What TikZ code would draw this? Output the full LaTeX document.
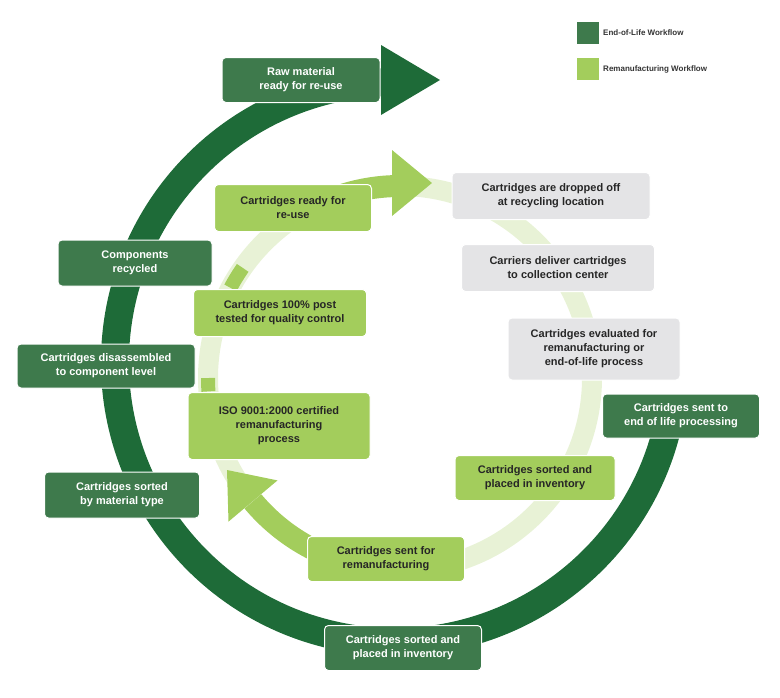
\documentclass[tikz,border=0pt]{standalone}
\usepackage{fontspec}
\setmainfont{Liberation Sans}
\definecolor{eolgreen}{HTML}{3E7A4C}
\definecolor{ringgreen}{HTML}{1E6B38}
\definecolor{remgreen}{HTML}{A3CD5C}
\definecolor{boxgrey}{HTML}{E4E4E6}
\tikzset{
  box/.style={rounded corners=4pt, align=center, font=\bfseries\fontsize{11}{14}\selectfont,
    inner sep=0pt, draw=white, line width=1pt},
  eol/.style={box, fill=eolgreen, text=white},
  rem/.style={box, fill=remgreen, text=black!85},
  grey/.style={box, fill=boxgrey, text=black!85},
  key/.style={font=\bfseries\fontsize{8}{10}\selectfont, anchor=west, text=black!80}
}
\begin{document}
\begin{tikzpicture}[x=1pt,y=-1pt]
\useasboundingbox (0,0) rectangle (780,697);
% outer ring
\draw[ringgreen, line width=28pt]
  (395,362) ++(10:280) arc[start angle=10, end angle=267.5, radius=280];
\fill[ringgreen] (381,45) -- (440,80) -- (381,115) -- cycle;
% inner ring
\draw[remgreen, opacity=.25, line width=20pt] (400,378) circle[radius=192];
\draw[remgreen, line width=22pt]
  (400,378) ++(-125:192) arc[start angle=-125, end angle=-92, radius=192];
\fill[remgreen] (392,150) -- (432,183) -- (392,216) -- cycle;
\draw[remgreen, line width=22pt]
  (400,378) ++(80:192) arc[start angle=80, end angle=140, radius=192];
\fill[remgreen] (277.5,480.4) -- (227,470) -- (228.5,521.6) -- cycle;
\draw[remgreen, line width=14pt] (400,378) ++(-152:192) arc[start angle=-152, end angle=-145, radius=192];
\draw[remgreen, line width=14pt] (400,378) ++(176:192) arc[start angle=176, end angle=180, radius=192];
% end-of-life boxes
\node[eol, minimum width=158pt, minimum height=45pt] (raw) at (301,80) {Raw material\\ready for re-use};
\node[eol, minimum width=154pt, minimum height=46pt] (comp) at (135,263) {Components\\recycled};
\node[eol, minimum width=178pt, minimum height=44pt] (disas) at (106,366) {Cartridges disassembled\\to component level};
\node[eol, minimum width=157pt, minimum height=44pt] (eolsent) at (681,416) {Cartridges sent to\\end of life processing};
\node[eol, minimum width=155pt, minimum height=46pt] (bytype) at (122,495) {Cartridges sorted\\by material type};
\node[eol, minimum width=157pt, minimum height=45pt] (sortbot) at (403,648) {Cartridges sorted and\\placed in inventory};
% remanufacturing boxes
\node[rem, minimum width=157pt, minimum height=47pt] (ready) at (293,208) {Cartridges ready for\\re-use};
\node[rem, minimum width=173pt, minimum height=47pt] (tested) at (280,313) {Cartridges 100\% post\\tested for quality control};
\node[rem, minimum width=182pt, minimum height=67pt] (iso) at (279,426) {ISO 9001:2000 certified\\remanufacturing\\process};
\node[rem, minimum width=160pt, minimum height=45pt] (sortrem) at (535,478) {Cartridges sorted and\\placed in inventory};
\node[rem, minimum width=157pt, minimum height=45pt] (remsent) at (386,559) {Cartridges sent for\\remanufacturing};
% collection boxes
\node[grey, minimum width=198pt, minimum height=47pt] (drop) at (551,196) {Cartridges are dropped off\\at recycling location};
\node[grey, minimum width=193pt, minimum height=47pt] (carry) at (558,268) {Carriers deliver cartridges\\to collection center};
\node[grey, minimum width=172pt, minimum height=62pt] (eval) at (594,349) {Cartridges evaluated for\\remanufacturing or\\end-of-life process};
% legend
\node[fill=eolgreen, draw=white, minimum size=23pt, inner sep=0pt] (keyeol) at (588,33) {};
\node[key] at (keyeol.east) {End-of-Life Workflow};
\node[fill=remgreen, draw=white, minimum size=23pt, inner sep=0pt] (keyrem) at (588,69) {};
\node[key] at (keyrem.east) {Remanufacturing Workflow};
\end{tikzpicture}
\end{document}
